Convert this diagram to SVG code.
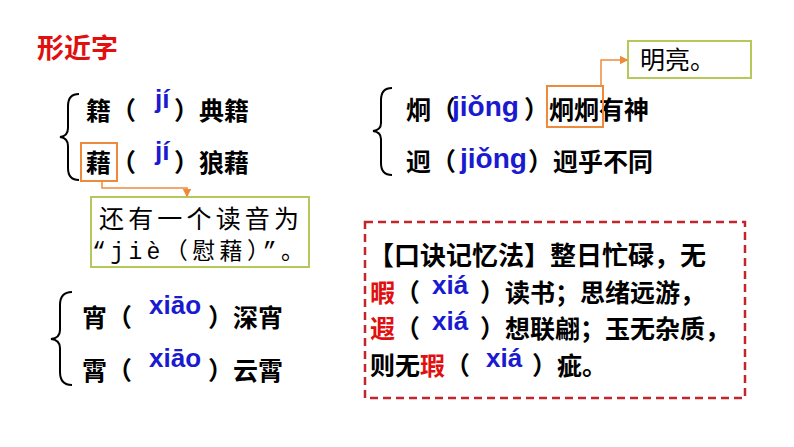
<svg xmlns="http://www.w3.org/2000/svg" width="794" height="447" viewBox="0 0 794 447">
<style>
.t{font-family:"Noto Sans CJK SC","Liberation Sans",sans-serif;font-size:25px;font-weight:bold;fill:#000}
.p{font-family:"Liberation Sans",Arial,sans-serif;font-size:26px;font-weight:bold;fill:#1a1ad0}
.s{font-family:"Liberation Mono","Noto Sans CJK SC",monospace;font-size:25px;fill:#000}
.r{fill:#e01010}
.br{fill:none;stroke:#000;stroke-width:2}
.ob{fill:none;stroke:#ee8a3c;stroke-width:2}
.gb{fill:#fff;stroke:#b5c95a;stroke-width:2}
.cl{fill:none;stroke:#ee8a3c;stroke-width:1.5}
</style>
<defs><marker id="a" markerWidth="6" markerHeight="6" refX="5" refY="3" orient="auto"><path d="M0,0L6,3L0,6z" fill="#ee8a3c"/></marker></defs>
<rect width="794" height="447" fill="#fff"/>
<text x="37" y="58" class="t r" style="font-size:27px">形近字</text>
<g id="brace1"><path class="br" d="M79,94 Q68,94 68,106 V128 Q68,136 60,137 Q68,138 68,146 V168 Q68,180 79,180"/></g>
<g id="row1"><text x="86" y="120" class="t">籍（</text><text x="155" y="108" class="p">jí</text><text x="174" y="120" class="t">）典籍</text></g>
<g id="row2"><text x="86" y="172" class="t">藉（</text><text x="155" y="160" class="p">jí</text><text x="174" y="172" class="t">）狼藉</text></g>
<g id="box1"><rect x="81" y="143" width="36" height="38" class="ob"/></g>
<g id="note1"><rect x="91" y="197" width="218" height="70" class="gb"/><text x="99" y="228" class="s" textLength="200">还有一个读音为</text><text x="92" y="259" class="s" style="font-size:23px" textLength="212">“jiè（慰藉）”。</text></g>
<g id="brace2"><path class="br" d="M392,88 Q381,88 381,100 V123 Q381,130 373,131 Q381,132 381,139 V163 Q381,175 392,175"/></g>
<g id="row3"><text x="406" y="119" class="t">炯（</text><text x="452" y="116" class="p" style="font-size:28px">jiǒng</text><text x="524" y="119" class="t">）炯炯有神</text></g>
<g id="row4"><text x="406" y="171" class="t">迥（</text><text x="460" y="168" class="p" style="font-size:28px">jiǒng</text><text x="528" y="171" class="t">）迥乎不同</text></g>
<g id="box2"><rect x="547" y="86" width="56" height="41" class="ob"/></g>
<g id="note2"><rect x="628" y="41" width="123" height="37" class="gb"/><text x="640" y="69" class="s">明亮。</text></g>
<g id="brace3"><path class="br" d="M72,292 Q60,292 60,305 V330 Q60,338 51,339 Q60,340 60,348 V372 Q60,385 72,385"/></g>
<g id="row5"><text x="82" y="327" class="t">宵（</text><text x="149" y="314" class="p">xiāo</text><text x="208" y="327" class="t">）深宵</text></g>
<g id="row6"><text x="82" y="380" class="t">霄（</text><text x="149" y="367" class="p">xiāo</text><text x="208" y="380" class="t">）云霄</text></g>
<g id="mnemonic">
<rect x="365" y="222" width="380" height="176" fill="none" stroke="#c0272d" stroke-width="2.5" stroke-dasharray="8,5"/>
<text x="368" y="265" class="t" style="font-size:26px">【口诀记忆法】整日忙碌，无</text>
<text x="370" y="302" class="t"><tspan class="r">暇</tspan>（</text><text x="432" y="294" class="p">xiá</text><text x="480" y="302" class="t">）读书；思绪远游，</text>
<text x="370" y="338" class="t"><tspan class="r">遐</tspan>（</text><text x="432" y="330" class="p">xiá</text><text x="480" y="338" class="t">）想联翩；玉无杂质，</text>
<text x="370" y="375" class="t">则无<tspan class="r">瑕</tspan>（</text><text x="486" y="367" class="p">xiá</text><text x="532" y="375" class="t">）疵。</text>
</g>
<g id="connectors">
<path class="cl" d="M102,181 V188 H187 V196" marker-end="url(#a)"/>
<path class="cl" d="M601,86 V60 H627" marker-end="url(#a)"/>
</g>
</svg>
